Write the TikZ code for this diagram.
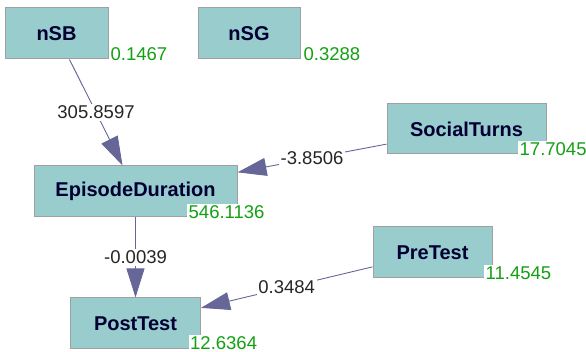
\documentclass[tikz,border=0pt]{standalone}
\usepackage{fontspec}
\setmainfont{Liberation Sans}
\usetikzlibrary{arrows.meta,positioning}

\definecolor{boxfill}{RGB}{153,204,204}
\definecolor{boxline}{RGB}{160,160,160}
\definecolor{boxtext}{RGB}{0,0,51}
\definecolor{edgeline}{RGB}{102,102,153}
\definecolor{estgreen}{RGB}{20,160,20}

\begin{document}
\begin{tikzpicture}[
    node distance=1.0cm,
    var/.style={rectangle,draw=boxline,line width=1pt,fill=boxfill,inner sep=0pt,minimum height=51pt,text=boxtext,font=\fontsize{20}{24}\selectfont\bfseries},
    est/.style={anchor=base west,fill=white,inner sep=1.5pt,text=estgreen,font=\fontsize{18.5}{22}\selectfont},
    coef/.style={fill=white,inner sep=1.5pt,text=black!85,font=\fontsize{18.5}{22}\selectfont},
    arrow/.style={draw=edgeline,line width=0.9pt,-{Triangle[length=29pt,width=18pt]}}
]
    \useasboundingbox (0,0) rectangle (586pt,-352pt);

    % Variables
    \node[var,minimum width=103pt] (nsb) at (56.5pt,-33.5pt) {nSB};
    \node[var,minimum width=102pt,right=89pt of nsb] (nsg) {nSG};
    \node[var,minimum width=159pt,minimum height=50pt] (turns) at (466.5pt,-129pt) {SocialTurns};
    \node[var,minimum width=203pt,below=106pt of nsb,xshift=79pt] (dur) {EpisodeDuration};
    \node[var,minimum width=130pt,below=80pt of dur] (post) {PostTest};
    \node[var,minimum width=119pt,below=72pt of turns,xshift=-34pt] (pre) {PreTest};

    % Paths with coefficients
    \draw[arrow] (nsb) -- node[coef] {305.8597} (dur);
    \draw[arrow] (turns) -- node[coef] {-3.8506} (dur);
    \draw[arrow] (dur) -- node[coef] {-0.0039} (post);
    \draw[arrow] (pre) -- node[coef] {0.3484} (post);

    % Estimates
    \node[est] (nsbval) at ([xshift=0.5pt,yshift=-1pt]nsb.south east) {0.1467};
    \node[est] (nsgval) at ([xshift=1.5pt,yshift=-1pt]nsg.south east) {0.3288};
    \node[est] (turnsval) at ([xshift=-28.5pt,yshift=-1pt]turns.south east) {17.7045};
    \node[est] (durval) at ([xshift=-50.5pt,yshift=-1pt]dur.south east) {546.1136};
    \node[est] (postval) at ([xshift=-12.5pt,yshift=0pt]post.south east) {12.6364};
    \node[est] (preval) at ([xshift=-8.5pt,yshift=-1pt]pre.south east) {11.4545};
\end{tikzpicture}
\end{document}
